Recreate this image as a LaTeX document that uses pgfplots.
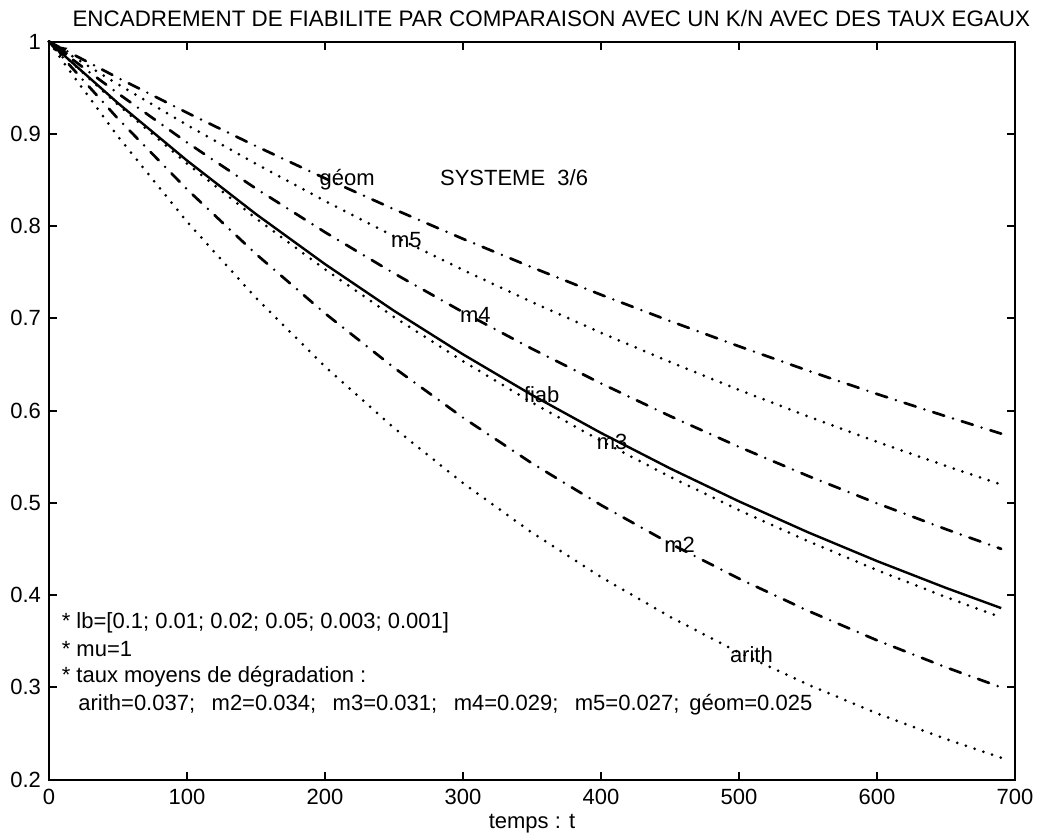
\documentclass[border=0pt]{standalone}
\usepackage{fontspec}
\setmainfont{Liberation Sans}
\usepackage{pgfplots}
\pgfplotsset{compat=1.18}
\begin{document}
\begin{tikzpicture}[font=\fontsize{11}{13}\selectfont]
\useasboundingbox (-24.5pt,-28.5pt) rectangle (495.5pt,389.8pt);
\begin{axis}[
  scale only axis, width=483pt, height=369pt,
  xmin=0, xmax=700, ymin=0.2, ymax=1,
  xtick={0,100,200,300,400,500,600,700},
  ytick={0.2,0.3,0.4,0.5,0.6,0.7,0.8,0.9,1},
  tick align=inside, xtick pos=both, ytick pos=both,
  major tick length=4pt,
  axis line style={line width=1pt},
  tick style={line width=0.9pt, black},
  /pgf/number format/assume math mode=true,
  xticklabel style={yshift=-1pt},
  yticklabel style={xshift=-0.5pt},
  clip=false,
  dotl/.style={black, line width=1.5pt, line cap=round, dash pattern=on 0pt off 4.6pt},
  dashdot/.style={black, line width=1.35pt, line cap=round, dash pattern=on 5.8pt off 4.6pt on 0pt off 4.6pt},
]
% geom
\addplot[dashdot] coordinates {(0,1)(10,0.9920)(50,0.9607)(100,0.9229)(150,0.8867)(200,0.8518)(250,0.8183)(300,0.7862)(350,0.7553)(400,0.7256)(450,0.6971)(500,0.6697)(550,0.6433)(600,0.6180)(650,0.5938)(690,0.5750)};
% m5
\addplot[dotl] coordinates {(0,1)(10,0.9906)(50,0.9537)(100,0.9096)(150,0.8675)(200,0.8273)(250,0.7890)(300,0.7525)(350,0.7176)(400,0.6844)(450,0.6527)(500,0.6225)(550,0.5937)(600,0.5662)(650,0.5400)(690,0.5199)};
% m4
\addplot[dashdot] coordinates {(0,1)(10,0.9885)(50,0.9438)(100,0.8907)(150,0.8407)(200,0.7934)(250,0.7488)(300,0.7067)(350,0.6670)(400,0.6295)(450,0.5941)(500,0.5607)(550,0.5292)(600,0.4995)(650,0.4714)(690,0.4501)};
% fiab
\addplot[black, line width=1.2pt] coordinates {(0,1)(10,0.9863)(50,0.9333)(100,0.8711)(150,0.8130)(200,0.7588)(250,0.7082)(300,0.6610)(350,0.6169)(400,0.5758)(450,0.5374)(500,0.5016)(550,0.4681)(600,0.4369)(650,0.4078)(690,0.3859)};
% m3
\addplot[dotl] coordinates {(0,1)(10,0.9859)(50,0.9316)(100,0.8678)(150,0.8084)(200,0.7531)(250,0.7015)(300,0.6535)(350,0.6088)(400,0.5671)(450,0.5283)(500,0.4921)(550,0.4585)(600,0.4271)(650,0.3978)(690,0.3759)};
% m2
\addplot[dashdot] coordinates {(0,1)(10,0.9827)(50,0.9164)(100,0.8399)(150,0.7697)(200,0.7054)(250,0.6465)(300,0.5924)(350,0.5429)(400,0.4976)(450,0.4560)(500,0.4179)(550,0.3830)(600,0.3510)(650,0.3217)(690,0.3000)};
% arith
\addplot[dotl] coordinates {(0,1)(10,0.9785)(50,0.8971)(100,0.8048)(150,0.7221)(200,0.6478)(250,0.5812)(300,0.5214)(350,0.4677)(400,0.4196)(450,0.3765)(500,0.3377)(550,0.3030)(600,0.2718)(650,0.2439)(690,0.2236)};
% start blob
\addplot[black, line width=1.6pt, -latex] coordinates {(13,0.986)(2,0.998)};

\node at (axis cs:216,0.850) {géom};
\node at (axis cs:259,0.785) {m5};
\node at (axis cs:309,0.704) {m4};
\node at (axis cs:357,0.617) {fiab};
\node at (axis cs:408,0.5665) {m3};
\node at (axis cs:457,0.4546) {m2};
\node at (axis cs:509,0.3355) {arith};
\node at (axis cs:337,0.853) {SYSTEME\ \ 3/6};

\node[anchor=west, inner sep=0pt] at (axis cs:9,0.370) {* lb=[0.1; 0.01; 0.02; 0.05; 0.003; 0.001]};
\node[anchor=west, inner sep=0pt] at (axis cs:9,0.3416) {* mu=1};
\node[anchor=west, inner sep=0pt] at (axis cs:9,0.312) {* taux moyens de dégradation :};
\node[anchor=west, inner sep=0pt] at (axis cs:21,0.281) {arith=0.037;\hspace{0.75em}m2=0.034;\hspace{0.75em}m3=0.031;\hspace{0.75em}m4=0.029;\hspace{0.75em}m5=0.027;\hspace{0.45em}géom=0.025};

\node[font=\fontsize{11.2}{13}\selectfont] at (axis description cs:0.52,1.032) {ENCADREMENT DE FIABILITE PAR COMPARAISON AVEC UN K/N AVEC DES TAUX EGAUX};
\node at (axis description cs:0.5,-0.0596) {temps : t};
\end{axis}
\end{tikzpicture}
\end{document}
